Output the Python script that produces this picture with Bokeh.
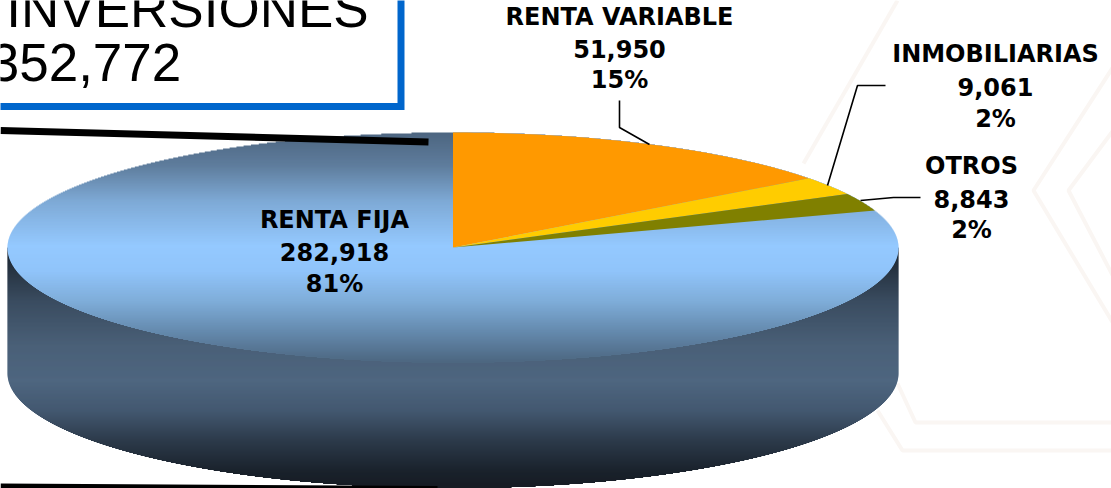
import numpy as np
from bokeh.plotting import figure
from bokeh.models import Range1d
from bokeh.core.properties import value
from bokeh.embed import file_html
from bokeh.resources import INLINE

# data
categories = ["RENTA VARIABLE", "INMOBILIARIAS", "OTROS", "RENTA FIJA"]
amounts = [51950, 9061, 8843, 282918]
percents = ["15%", "2%", "2%", "81%"]
slice_colors = ["#FF9900", "#FFCC00", "#808000", None]
title_lines = ["INVERSIONES", "352,772"]

# geometry of the drawing (pixels of the picture)
W, H = 1111, 488
CX, CY, RX, RY = 452.5, 247, 445.5, 115
DEPTH = 125
FONT = value("Liberation Sans")
LABEL_FONT = value("DejaVu Sans")

top_stops = [(132, "#4d6680"), (165, "#5f7d9d"), (200, "#7ea9d5"), (245, "#94c9ff"),
             (270, "#90c4fa"), (300, "#7fadd9"), (330, "#658aae"), (362, "#4c667f")]
side_stops = [(250, "#1b2530"), (300, "#3a4c60"), (345, "#4a6078"), (380, "#4e6680"),
              (410, "#435870"), (440, "#2c3a4a"), (470, "#1a222c"), (488, "#151b22")]


def rgb(h):
    return np.array([int(h[i:i + 2], 16) for i in (1, 3, 5)], float)


def grad(stops, y):
    ys = [s[0] for s in stops]
    cs = np.array([rgb(s[1]) for s in stops])
    c = [np.interp(y, ys, cs[:, k]) for k in range(3)]
    return "#%02x%02x%02x" % tuple(int(round(v)) for v in c)


p = figure(width=W, height=H, output_backend="svg", toolbar_location=None,
           x_range=Range1d(0, W), y_range=Range1d(H, 0), min_border=0)
p.xaxis.visible = False
p.yaxis.visible = False
p.grid.visible = False
p.outline_line_color = None
p.background_fill_color = "white"

# faint background hexagon pattern
bg_x = [[897, 803], [1120, 1033, 1120], [1120, 1068, 1120], [897, 915, 1120], [877, 902, 1120]]
bg_y = [[0, 163], [55, 190, 335], [120, 190, 290], [383, 422, 422], [410, 450, 450]]
p.multi_line(bg_x, bg_y, line_color="#faf6f3", line_width=4)

# side of the cylinder, row by row
rows = np.arange(CY, CY + DEPTH + RY + 1, 1.0)
half = np.where(rows <= CY + DEPTH, RX,
                RX * np.sqrt(np.clip(1 - ((rows - CY - DEPTH) / RY) ** 2, 0, 1)))
p.quad(left=CX - half, right=CX + half, top=rows, bottom=rows + 1.5,
       fill_color=[grad(side_stops, y) for y in rows], line_color=None)

# top face (largest slice's gradient), row by row
rows = np.arange(CY - RY, CY + RY, 1.0)
half = RX * np.sqrt(np.clip(1 - ((rows + 0.5 - CY) / RY) ** 2, 0, 1))
p.quad(left=CX - half, right=CX + half, top=rows, bottom=rows + 1.5,
       fill_color=[grad(top_stops, y) for y in rows], line_color=None)

# the other slices, clockwise from twelve o'clock
total = sum(amounts)
start = 0.0
for amt, col in zip(amounts, slice_colors):
    end = start + 2 * np.pi * amt / total
    if col:
        t = np.linspace(start, end, 60)
        xs = np.concatenate([[CX], CX + RX * np.sin(t)])
        ys = np.concatenate([[CY], CY - RY * np.cos(t)])
        p.patch(xs, ys, fill_color=col, line_color=None)
    start = end

# thick black lines
p.line([0, 428], [130, 141.5], line_color="black", line_width=7)
p.line([0, 437], [485.5, 488], line_color="black", line_width=5)

# title box
p.quad(left=[-12], right=[400.5], top=[-12], bottom=[106], fill_color="white",
       line_color="#0066CC", line_width=7, line_join="miter")
p.text([187], [8], text=[title_lines[0]], text_font=FONT, text_font_size="53px",
       text_align="center", text_baseline="alphabetic", text_color="black")
p.text([85], [62], text=[title_lines[1]], text_font=FONT, text_font_size="53px",
       text_align="center", text_baseline="alphabetic", text_color="black")

# leader lines
p.multi_line([[619, 619, 649], [885, 857, 827], [920, 893, 860]],
             [[100, 127, 144], [85, 85, 185], [197, 197, 200]],
             line_color="black", line_width=1.6)

# labels
label_x = [619, 995, 971, 334]
label_y = [[16, 48, 79], [53, 86, 118], [165, 198, 229], [219, 251, 283]]
for c, a, pc, x, ys in zip(categories, amounts, percents, label_x, label_y):
    p.text([x] * 3, ys, text=[c, f"{a:,}", pc], text_font=LABEL_FONT, text_font_size="24px",
           text_font_style="bold", text_align="center", text_baseline="alphabetic",
           text_color="black")

open("out.html", "w").write(file_html(p, INLINE))
